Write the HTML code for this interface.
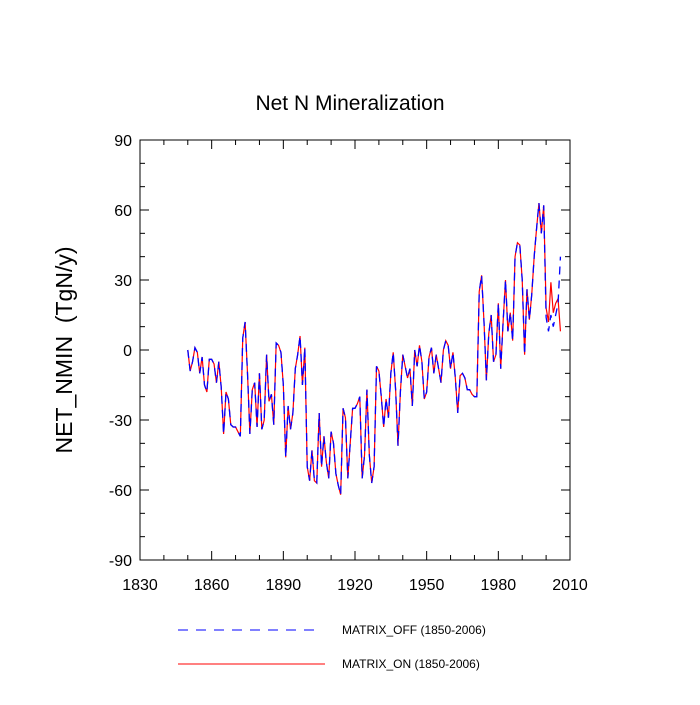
<!DOCTYPE html>
<html><head><meta charset="utf-8"><style>
body{margin:0;background:#fff;}
svg text{font-family:"Liberation Sans",sans-serif;fill:#000;}
</style></head><body>
<svg id="chart" width="700" height="700" xmlns="http://www.w3.org/2000/svg">
<text x="350" y="110" font-size="21" text-anchor="middle">Net N Mineralization</text>
<text x="0" y="0" font-size="23" text-anchor="middle" transform="translate(72,350) rotate(-90)" xml:space="preserve">NET_NMIN  (TgN/y)</text>
<g id="axes"></g>
<g id="series"></g>
<g>
<line x1="178" y1="630" x2="318" y2="630" stroke="#00f" stroke-width="1" stroke-dasharray="10,8"/>
<text x="342" y="634" font-size="12">MATRIX_OFF (1850-2006)</text>
<line x1="178" y1="664" x2="325" y2="664" stroke="#f00" stroke-width="1"/>
<text x="342" y="668" font-size="12">MATRIX_ON (1850-2006)</text>
</g>
</svg>
<script>
const startYear = 1850;
const matrixOn = [0,-9,-5,1,-1,-10,-3,-15,-18,-4,-4,-6,-14,-5,-16,-36,-18,-21,-32,-33,-33,-35,-37,5,12,-10,-36,-17,-14,-33,-10,-34,-30,-2,-22,-19,-32,3,2,-1,-15,-46,-24,-34,-27,-8,-2,6,-15,1,-50,-56,-43,-56,-57,-27,-50,-37,-48,-55,-35,-40,-53,-58,-62,-25,-29,-55,-40,-25,-25,-23,-20,-55,-45,-17,-45,-57,-50,-7,-9,-20,-33,-21,-29,-10,-1,-17,-41,-18,-2,-7,-12,-8,-24,0,-7,2,-5,-21,-18,-3,1,-10,-2,-8,-14,0,4,2,-8,-1,-12,-27,-11,-10,-12,-17,-17,-19,-20,-20,25,32,12,-13,7,15,-5,-2,20,-8,12,30,8,16,4,40,46,45,30,-2,26,13,24,40,52,63,50,62,18,12,29,16,20,22,8];
const matrixOff = [0,-9,-5,1,-1,-10,-3,-15,-18,-4,-4,-6,-14,-5,-16,-36,-18,-21,-32,-33,-33,-35,-37,5,12,-10,-36,-17,-14,-33,-10,-34,-30,-2,-22,-19,-32,3,2,-1,-15,-46,-24,-34,-27,-8,-2,6,-15,1,-50,-56,-43,-56,-57,-27,-50,-37,-48,-55,-35,-40,-53,-58,-62,-25,-29,-55,-40,-25,-25,-23,-20,-55,-45,-17,-45,-57,-50,-7,-9,-20,-33,-21,-29,-10,-1,-17,-41,-18,-2,-7,-12,-8,-24,0,-7,2,-5,-21,-18,-3,1,-10,-2,-8,-14,0,4,2,-8,-1,-12,-27,-11,-10,-12,-17,-17,-19,-20,-20,25,32,12,-13,7,15,-5,-2,20,-8,12,30,8,16,4,40,46,45,30,-2,26,13,24,40,52,63,50,62,14,8,15,10,15,20,40];
const xTicks = [1830,1860,1890,1920,1950,1980,2010];
const yTicks = [-90,-60,-30,0,30,60,90];

const L=140,R=570,T=140,B=560;
const xs = y => L + (y-1830)/(2010-1830)*(R-L);
const ys = v => B - (v+90)/180*(B-T);
const NS="http://www.w3.org/2000/svg";
const axes=document.getElementById('axes');
function mk(tag,attrs,parent){const e=document.createElementNS(NS,tag);for(const k in attrs)e.setAttribute(k,attrs[k]);parent.appendChild(e);return e;}
const frame=mk('rect',{x:L,y:T,width:R-L,height:B-T,fill:'none',stroke:'#000','stroke-width':1},axes);


for(let y=1830;y<=2010;y+=10){const major=(y-1830)%30===0;const len=major?9:5;const x=xs(y);
 mk('line',{x1:x,y1:B,x2:x,y2:B-len,stroke:'#000'},axes);mk('line',{x1:x,y1:T,x2:x,y2:T+len,stroke:'#000'},axes);}
for(let v=-90;v<=90;v+=10){const major=v%30===0;const len=major?9:5;const y=ys(v);
 mk('line',{x1:L,y1:y,x2:L+len,y2:y,stroke:'#000'},axes);mk('line',{x1:R,y1:y,x2:R-len,y2:y,stroke:'#000'},axes);}
xTicks.forEach(t=>{const e=mk('text',{x:xs(t),y:B+30,'font-size':16,'text-anchor':'middle'},axes);e.textContent=t;
 
 });
yTicks.forEach(t=>{const e=mk('text',{x:L-8,y:ys(t)+6,'font-size':16,'text-anchor':'end'},axes);e.textContent=t;
 
 });
const ser=document.getElementById('series');
function pts(arr){return arr.map((v,i)=>xs(startYear+i).toFixed(2)+','+ys(v).toFixed(2)).join(' ');}
const on=mk('polyline',{points:pts(matrixOn),fill:'none',stroke:'#f00','stroke-width':1.2},ser);


const off=mk('polyline',{points:pts(matrixOff),fill:'none',stroke:'#00f','stroke-width':1.3,'stroke-dasharray':'8,6'},ser);


</script>
</body></html>
